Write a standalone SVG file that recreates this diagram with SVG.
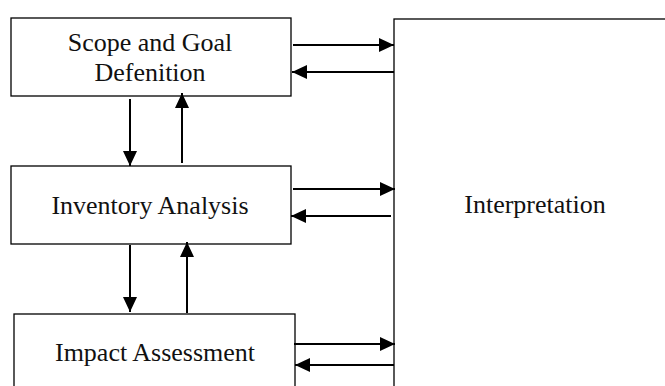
<svg xmlns="http://www.w3.org/2000/svg" width="665" height="386" viewBox="0 0 665 386">
<style>
.box{fill:#fff;stroke:#000;stroke-width:1.3}
.lbl{font-family:"Liberation Serif","Times New Roman",serif;font-size:26px;fill:#111;text-anchor:middle}
.ln{stroke:#000;stroke-width:2;fill:none;marker-end:url(#ah)}
</style>
<defs>
<marker id="ah" markerUnits="userSpaceOnUse" markerWidth="16" markerHeight="14" refX="15" refY="7" orient="auto">
<path d="M0,0 L15,7 L0,14 Z" fill="#000"/>
</marker>
</defs>
<rect width="665" height="386" fill="#fff"/>
<g id="interpretation">
<rect class="box" x="394" y="19" width="300" height="400"/>
<text class="lbl" x="535" y="213">Interpretation</text>
</g>
<g id="scope">
<rect class="box" x="11" y="18" width="280" height="78"/>
<text class="lbl" x="150" y="51">Scope and Goal</text>
<text class="lbl" x="150" y="81">Defenition</text>
</g>
<g id="inventory">
<rect class="box" x="11" y="166" width="280" height="78"/>
<text class="lbl" x="150" y="214">Inventory Analysis</text>
</g>
<g id="impact">
<rect class="box" x="14" y="314" width="281" height="100"/>
<text class="lbl" x="155" y="361">Impact Assessment</text>
</g>
<g id="connectors">
<line class="ln" x1="293" y1="45" x2="394" y2="45"/>
<line class="ln" x1="394" y1="72" x2="292" y2="72"/>
<line class="ln" x1="293" y1="189" x2="395" y2="189"/>
<line class="ln" x1="391" y1="216" x2="291" y2="216"/>
<line class="ln" x1="294" y1="344" x2="395" y2="344"/>
<line class="ln" x1="394" y1="365" x2="295" y2="365"/>
<line class="ln" x1="130" y1="99" x2="130" y2="166"/>
<line class="ln" x1="182" y1="163" x2="182" y2="93"/>
<line class="ln" x1="130" y1="245" x2="130" y2="312"/>
<line class="ln" x1="187" y1="313" x2="187" y2="242"/>
</g>
</svg>
